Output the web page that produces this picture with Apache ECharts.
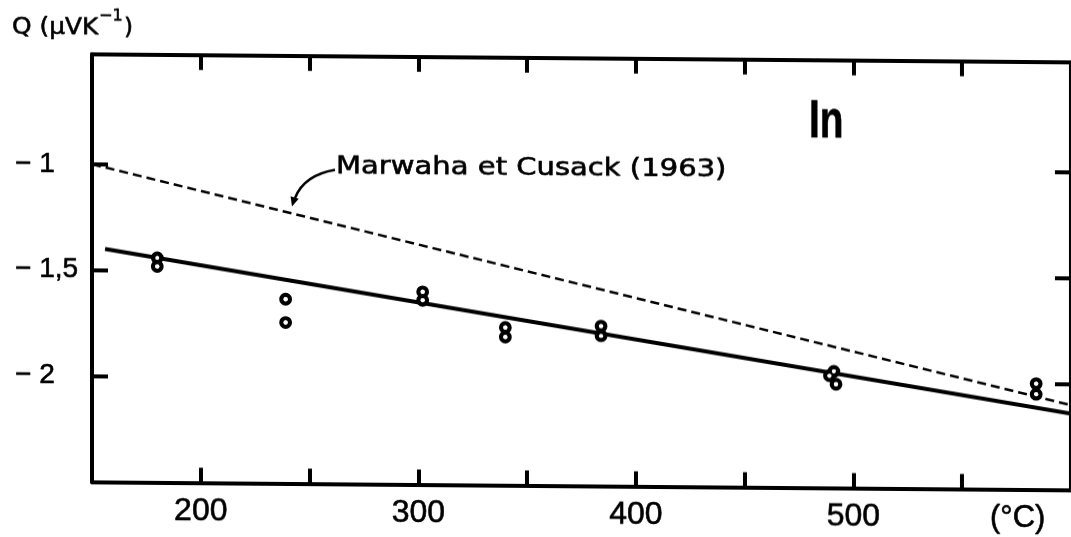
<!DOCTYPE html>
<html>
<head>
<meta charset="utf-8">
<script src="https://cdn.jsdelivr.net/npm/echarts/dist/echarts.min.js"></script>
<style>
  html, body { margin: 0; padding: 0; background: #fff; }
  /* slight shear of the whole plate, as printed */
  #chart { width: 1071px; height: 537px; transform: skewY(0.47deg); transform-origin: 535.5px 268.5px; }
</style>
</head>
<body>
<div id="chart"></div>
<script>
// Thermoelectric power Q of liquid indium against temperature (°C)

// measured points
const tempC   = [180, 180, 239, 239, 302, 302, 340, 340, 384, 384, 491, 489, 492, 584, 584];
const seebeck = [-1.44, -1.48, -1.63, -1.74, -1.59, -1.63, -1.755, -1.80, -1.745, -1.79, -1.95, -1.97, -2.01, -2.00, -2.05];

// straight-line fit through the measurements
const fitT = [156, 600];
const fitQ = [-1.40, -2.14];

// earlier result, Marwaha et Cusack (1963)
const refT = [150, 600];
const refQ = [-1.00, -2.10];

// axes
const xTickValues  = [200, 250, 300, 350, 400, 450, 500, 550];
const xLabelValues = [200, 300, 400, 500];
const yTickValues  = [-2, -1.5, -1];
const yTickLabels  = ['− 2', '− 1,5', '− 1'];

const INK = '#000';
const chart = echarts.init(document.getElementById('chart'), null, { renderer: 'canvas' });

const axisLine = { show: true, onZero: false, lineStyle: { color: INK, width: 4 } };
const xTick = { show: true, inside: true, length: 15, customValues: xTickValues, lineStyle: { color: INK, width: 4 } };
const yTick = { show: true, inside: true, length: 16, customValues: yTickValues, lineStyle: { color: INK, width: 4 } };

// heavier strokes on printed lettering (axis labels)
const heavy = { textBorderColor: INK, textBorderWidth: 0.6 };

function yLabel(v) {
  for (let i = 0; i < yTickValues.length; i++) {
    if (Math.abs(yTickValues[i] - v) < 1e-9) return yTickLabels[i];
  }
  return '';
}

// free-standing lettering, outlined slightly to thicken the glyphs
function txt(x, y, text, font, extra) {
  return Object.assign({
    type: 'text', x: x, y: y, silent: true,
    style: Object.assign({
      text: text, fill: INK, stroke: INK, lineWidth: 0.6,
      align: 'left', verticalAlign: 'middle'
    }, font)
  }, extra || {});
}

const points = tempC.map((t, i) => [t, seebeck[i]]);

chart.setOption({
  animation: false,
  backgroundColor: '#fff',
  grid: { left: 92, right: -5, top: 57.7, bottom: 51.5, containLabel: false },
  xAxis: [
    {
      type: 'value', position: 'bottom', min: 150, max: 600,
      axisLine: axisLine, axisTick: xTick, splitLine: { show: false },
      axisLabel: Object.assign({
        customValues: xLabelValues, margin: 13, color: INK,
        fontFamily: 'Liberation Sans', fontSize: 32,
        formatter: v => String(v)
      }, heavy)
    },
    {
      type: 'value', position: 'top', min: 150, max: 600,
      axisLine: axisLine, axisTick: xTick, splitLine: { show: false },
      axisLabel: { show: false }
    }
  ],
  yAxis: [
    {
      type: 'value', position: 'left', min: -2.5, max: -0.48,
      axisLine: axisLine, axisTick: yTick, splitLine: { show: false },
      axisLabel: Object.assign({
        customValues: yTickValues, formatter: yLabel, align: 'left', margin: 77,
        color: INK, fontFamily: 'Liberation Sans', fontSize: 28
      }, heavy)
    },
    {
      type: 'value', position: 'right', min: -2.5, max: -0.48,
      axisLine: axisLine, axisTick: yTick, splitLine: { show: false },
      axisLabel: { show: false }
    }
  ],
  series: [
    {
      name: 'Marwaha et Cusack (1963)', type: 'line', silent: true, z: 2,
      data: refT.map((t, i) => [t, refQ[i]]),
      showSymbol: false,
      lineStyle: { color: INK, width: 2.5, type: [9, 5] }
    },
    {
      name: 'In', type: 'line', silent: true, z: 3,
      data: fitT.map((t, i) => [t, fitQ[i]]),
      showSymbol: false,
      lineStyle: { color: INK, width: 4 }
    },
    // open circles: thick black ring ...
    {
      name: 'mesures', type: 'scatter', silent: true, z: 4,
      data: points,
      symbol: 'circle', symbolSize: 8.6,
      itemStyle: { color: 'rgba(0,0,0,0)', borderColor: INK, borderWidth: 4.2, opacity: 1 }
    },
    // ... with a small white centre
    {
      name: 'mesures-centre', type: 'scatter', silent: true, z: 5,
      data: points,
      symbol: 'circle', symbolSize: 4,
      itemStyle: { color: '#fff', borderWidth: 0, opacity: 1 }
    }
  ],
  graphic: [
    // axis title Q (µV K^-1)
    txt(12, 32, 'Q (μVK', { fontFamily: 'DejaVu Sans', fontSize: 23 }, { scaleX: 1.08 }),
    txt(99, 20, '−1', { fontFamily: 'DejaVu Sans', fontSize: 16 }),
    txt(124, 32, ')', { fontFamily: 'DejaVu Sans', fontSize: 23 }),
    // unit of the temperature axis
    txt(990, 514, '(°C)', { fontFamily: 'Liberation Sans', fontSize: 31 }),
    // metal
    txt(809, 120, 'In', { fontFamily: 'Liberation Sans', fontWeight: 'bold', fontSize: 54 }, { scaleX: 0.72 }),
    // reference label with its pointer
    txt(336, 168.5, 'Marwaha et Cusack (1963)', { fontFamily: 'DejaVu Sans', fontSize: 24 }, { scaleX: 1.21 }),
    { type: 'bezierCurve', silent: true,
      shape: { x1: 335, y1: 171.5, cpx1: 304, cpy1: 177, x2: 295, y2: 200 },
      style: { stroke: INK, lineWidth: 2.5, fill: null } },
    { type: 'polygon', silent: true,
      shape: { points: [[292, 208.5], [298.7, 200.8], [290.6, 198.2]] },
      style: { fill: INK } }
  ]
});
</script>
</body>
</html>
